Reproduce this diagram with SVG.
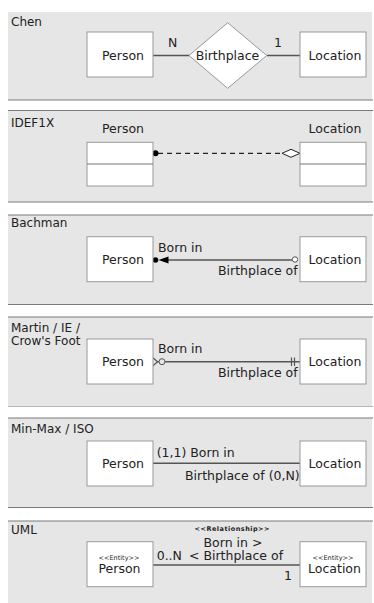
<svg xmlns="http://www.w3.org/2000/svg" width="374" height="603" viewBox="0 0 374 603">
<style>
.bg{fill:#e6e6e6}
.sep{stroke:#7a7a7a;stroke-width:1.2}
.box{fill:#fff;stroke:#999;stroke-width:1}
.ln{stroke:#555;stroke-width:1.6;fill:none}
text{font-family:"DejaVu Sans","Liberation Sans",sans-serif;font-size:12.5px;fill:#222}
.ti{font-size:12px}
.m{text-anchor:middle}
.s{font-size:6.5px}
.sb{font-size:6.5px;font-weight:bold}
</style>
<rect width="374" height="603" fill="#fff"/>
<g id="panels">
<rect class="bg" x="8" y="12" width="364" height="88"/>
<line class="sep" x1="8" y1="100" x2="373" y2="100"/>
<rect class="bg" x="8" y="110.5" width="364" height="91.5"/>
<line class="sep" x1="8" y1="110.5" x2="373" y2="110.5"/>
<line class="sep" x1="8" y1="202" x2="373" y2="202"/>
<rect class="bg" x="8" y="215" width="364" height="89.5"/>
<line class="sep" x1="8" y1="215" x2="373" y2="215"/>
<line class="sep" x1="8" y1="304.5" x2="373" y2="304.5"/>
<rect class="bg" x="8" y="317" width="364" height="89.5"/>
<line class="sep" x1="8" y1="317" x2="373" y2="317"/>
<line class="sep" x1="8" y1="406.5" x2="373" y2="406.5" stroke-opacity="0.5"/>
<rect class="bg" x="8" y="418" width="364" height="89.5"/>
<line class="sep" x1="8" y1="418" x2="373" y2="418"/>
<line class="sep" x1="8" y1="507.5" x2="373" y2="507.5"/>
<rect class="bg" x="8" y="521" width="364" height="82"/>
<line class="sep" x1="8" y1="521" x2="373" y2="521"/>
<text class="ti" x="11" y="26">Chen</text>
<text class="ti" x="11" y="126.7">IDEF1X</text>
<text class="ti" x="11" y="227.3">Bachman</text>
<text class="ti" x="11" y="332.3">Martin / IE /</text>
<text class="ti" x="11" y="345.3">Crow's Foot</text>
<text class="ti" x="11" y="432.7">Min-Max / ISO</text>
<text class="ti" x="11" y="534">UML</text>
</g>
<g id="connectors">
<line class="ln" x1="153" y1="55.5" x2="189" y2="55.5"/>
<line class="ln" x1="267" y1="55.5" x2="300" y2="55.5"/>
<text x="168" y="47">N</text>
<text x="274" y="47">1</text>
<line x1="158" y1="153.3" x2="283" y2="153.3" stroke="#222" stroke-width="1.2" stroke-dasharray="5,4"/>
<circle cx="155.5" cy="153.3" r="3" fill="#000"/>
<polygon points="282,153.3 291,149.3 300,153.3 291,157.3" fill="#fff" stroke="#222" stroke-width="1"/>
<line class="ln" x1="162" y1="260" x2="292" y2="260"/>
<circle cx="155.5" cy="260" r="2.8" fill="#000"/>
<polygon points="158.5,260 168.5,256.5 168.5,263.5" fill="#000"/>
<circle cx="295" cy="259.5" r="2.7" fill="#fff" stroke="#555" stroke-width="1"/>
<text x="158" y="251.7">Born in</text>
<text x="218" y="275">Birthplace of</text>
<line class="ln" x1="157" y1="361.7" x2="300" y2="361.7"/>
<polyline points="153,357.7 157.5,361.7 153,365.7" fill="none" stroke="#555" stroke-width="1.2"/>
<circle cx="162" cy="361.7" r="3" fill="#e6e6e6" stroke="#555" stroke-width="1"/>
<line x1="291.5" y1="357.5" x2="291.5" y2="366" stroke="#555" stroke-width="1.2"/>
<line x1="294.5" y1="357.5" x2="294.5" y2="366" stroke="#555" stroke-width="1.2"/>
<text x="158" y="353.3">Born in</text>
<text x="218" y="376.7">Birthplace of</text>
<line class="ln" x1="153" y1="463.3" x2="300" y2="463.3"/>
<text x="156.7" y="456.7">(1,1) Born in</text>
<text x="185" y="480">Birthplace of (0,N)</text>
<line class="ln" x1="153" y1="565" x2="300" y2="565"/>
<text class="sb m" x="232" y="531" textLength="75">&lt;&lt;Relationship&gt;&gt;</text>
<text class="m" x="233" y="547">Born in &gt;</text>
<text class="m" x="236" y="560">&lt; Birthplace of</text>
<text x="156.7" y="560">0..N</text>
<text x="284" y="580">1</text>
</g>
<g id="chen-person"><rect class="box" x="87" y="32" width="66" height="45"/><text class="m" x="123" y="60">Person</text></g>
<g id="chen-birthplace"><polygon points="227.7,22.7 266.7,55.5 227.7,88.3 189,55.5" fill="#fff" stroke="#999" stroke-width="1"/><text class="m" x="227.5" y="60">Birthplace</text></g>
<g id="chen-location"><rect class="box" x="300" y="32" width="66" height="45"/><text class="m" x="335" y="60">Location</text></g>
<g id="idef-person"><text class="m" x="123" y="133.3">Person</text><rect class="box" x="87" y="142.3" width="66" height="43.7"/><line x1="87" y1="164" x2="153" y2="164" stroke="#777"/></g>
<g id="idef-location"><text class="m" x="335" y="133.3">Location</text><rect class="box" x="300" y="142.3" width="66" height="43.7"/><line x1="300" y1="164" x2="366" y2="164" stroke="#777"/></g>
<g id="bach-person"><rect class="box" x="87" y="236.7" width="66" height="45"/><text class="m" x="123" y="264.3">Person</text></g>
<g id="bach-location"><rect class="box" x="300" y="236.7" width="66" height="45"/><text class="m" x="335" y="264.3">Location</text></g>
<g id="martin-person"><rect class="box" x="87" y="339" width="66" height="45"/><text class="m" x="123" y="366">Person</text></g>
<g id="martin-location"><rect class="box" x="300" y="339" width="66" height="45"/><text class="m" x="335" y="366">Location</text></g>
<g id="minmax-person"><rect class="box" x="87" y="441" width="66" height="45"/><text class="m" x="123" y="467.7">Person</text></g>
<g id="minmax-location"><rect class="box" x="300" y="441" width="66" height="45"/><text class="m" x="335" y="467.7">Location</text></g>
<g id="uml-person"><rect class="box" x="87" y="541.7" width="66" height="45"/><text class="s m" x="119" y="560">&lt;&lt;Entity&gt;&gt;</text><text class="m" x="119.5" y="573.3">Person</text></g>
<g id="uml-location"><rect class="box" x="300" y="541.7" width="66" height="45"/><text class="s m" x="333" y="560">&lt;&lt;Entity&gt;&gt;</text><text class="m" x="334.5" y="573.3">Location</text></g>
</svg>
